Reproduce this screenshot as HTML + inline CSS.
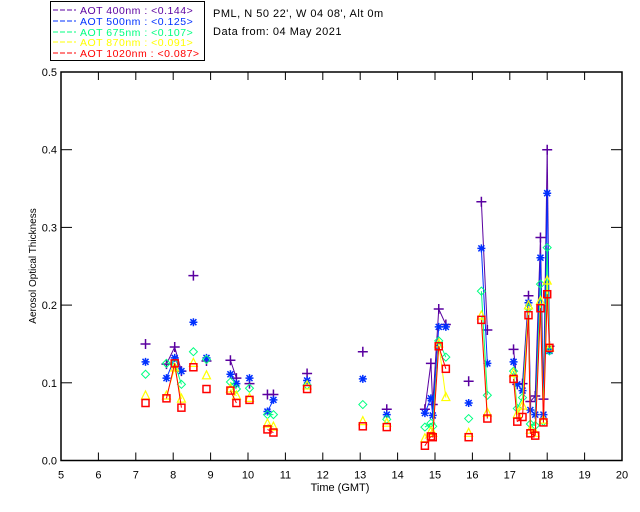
<!DOCTYPE html>
<html><head><meta charset="utf-8"><style>
body{margin:0;background:#fff;width:640px;height:512px;overflow:hidden}
svg{display:block;font-family:"Liberation Sans",sans-serif}
</style></head><body>
<svg id="chart" width="640" height="512" viewBox="0 0 640 512" xmlns="http://www.w3.org/2000/svg">
<g>
<rect x="50.5" y="1.5" width="154" height="59" fill="#fff" stroke="#000" stroke-width="1"/>
<g font-size="10.5" letter-spacing="0.5">
<line x1="53" y1="10" x2="76" y2="10" stroke="#5a00a0" stroke-dasharray="5,2"/><text x="80" y="14" fill="#5a00a0">AOT  400nm : &lt;0.144&gt;</text>
<line x1="53" y1="21" x2="76" y2="21" stroke="#0030ff" stroke-dasharray="5,2"/><text x="80" y="25" fill="#0030ff">AOT  500nm : &lt;0.125&gt;</text>
<line x1="53" y1="32" x2="76" y2="32" stroke="#00ff80" stroke-dasharray="5,2"/><text x="80" y="36" fill="#00ff80">AOT  675nm : &lt;0.107&gt;</text>
<line x1="53" y1="42" x2="76" y2="42" stroke="#ffff00" stroke-dasharray="5,2"/><text x="80" y="46" fill="#ffff00">AOT  870nm : &lt;0.091&gt;</text>
<line x1="53" y1="53" x2="76" y2="53" stroke="#ff0000" stroke-dasharray="5,2"/><text x="80" y="57" fill="#ff0000">AOT 1020nm : &lt;0.087&gt;</text>
</g></g>
<text x="213" y="17" font-size="11" letter-spacing="0.5">PML, N 50 22', W 04 08', Alt 0m</text>
<text x="213" y="35" font-size="11" letter-spacing="0.5">Data from: 04 May 2021</text>
<text x="340" y="491" font-size="11" text-anchor="middle">Time (GMT)</text>
<text transform="translate(36,266) rotate(-90)" font-size="10" text-anchor="middle">Aerosol Optical Thickness</text>
<g id="axes"></g>
<g id="marks"></g>
</svg>
<script>
const times=[7.26,7.82,8.04,8.22,8.54,8.89,9.53,9.69,10.04,10.52,10.68,11.58,13.07,13.71,14.73,14.89,14.94,15.10,15.29,15.90,16.24,16.40,17.10,17.20,17.34,17.50,17.55,17.68,17.82,17.90,18.00,18.06];
const aot400=[0.150,0.124,0.146,0.115,0.238,0.128,0.129,0.106,0.099,0.085,0.085,0.112,0.140,0.066,0.066,0.125,0.072,0.195,0.175,0.102,0.333,0.168,0.143,0.098,0.099,0.212,0.076,0.083,0.287,0.079,0.400,0.147];
const aot500=[0.127,0.106,0.132,0.115,0.178,0.132,0.111,0.099,0.106,0.063,0.078,0.103,0.105,0.059,0.061,0.080,0.058,0.172,0.172,0.074,0.273,0.125,0.127,0.098,0.090,0.203,0.065,0.059,0.261,0.059,0.344,0.141];
const aot675=[0.111,0.125,0.125,0.098,0.140,0.130,0.101,0.092,0.093,0.059,0.059,0.097,0.072,0.053,0.043,0.048,0.044,0.154,0.133,0.054,0.218,0.084,0.115,0.067,0.081,0.196,0.047,0.045,0.227,0.050,0.274,0.141];
const aot870=[0.083,0.083,0.119,0.079,0.125,0.109,0.092,0.083,0.080,0.047,0.043,0.096,0.050,0.048,0.028,0.037,0.035,0.150,0.081,0.035,0.186,0.061,0.112,0.059,0.070,0.199,0.039,0.035,0.205,0.052,0.231,0.145];
const aot1020=[0.074,0.080,0.125,0.068,0.120,0.092,0.090,0.074,0.078,0.040,0.036,0.092,0.044,0.043,0.019,0.031,0.030,0.147,0.118,0.030,0.181,0.054,0.105,0.050,0.056,0.187,0.035,0.032,0.196,0.049,0.214,0.145];
const xTicks=[5,6,7,8,9,10,11,12,13,14,15,16,17,18,19,20];
const yTicks=[0.0,0.1,0.2,0.3,0.4,0.5];
const X0=61,X1=622,Y0=460.5,Y1=72;
const xs=t=>X0+(t-5)/15*(X1-X0);
const ys=v=>Y0-v/0.5*(Y0-Y1);
const NS='http://www.w3.org/2000/svg';
function mk(tag,attrs,parent){const e=document.createElementNS(NS,tag);for(const k in attrs)e.setAttribute(k,attrs[k]);parent.appendChild(e);return e;}
const axes=document.getElementById('axes'),marks=document.getElementById('marks');
const frame=mk('rect',{x:X0,y:Y1,width:X1-X0,height:Y0-Y1,fill:'none',stroke:'#000','stroke-width':1.5},axes);


xTicks.forEach(t=>{const x=xs(t);
 mk('line',{x1:x,y1:Y0,x2:x,y2:Y0-8,stroke:'#000'},axes);
 mk('line',{x1:x,y1:Y1,x2:x,y2:Y1+8,stroke:'#000'},axes);
 const tx=mk('text',{x:x,y:Y0+18,'font-size':11,'text-anchor':'middle'},axes);tx.textContent=t;
 
 
});
yTicks.forEach(v=>{const y=ys(v);
 mk('line',{x1:X0,y1:y,x2:X0+11,y2:y,stroke:'#000'},axes);
 mk('line',{x1:X1,y1:y,x2:X1-11,y2:y,stroke:'#000'},axes);
 const tx=mk('text',{x:X0-4,y:y+4,'font-size':11,'text-anchor':'end'},axes);tx.textContent=v.toFixed(1);
 
 
});
const series=[[aot400,'#5a00a0','plus'],[aot500,'#0030ff','star'],[aot675,'#00ff80','diamond'],[aot870,'#ffff00','tri'],[aot1020,'#ff0000','square']];
series.forEach(([vals,col,sym],si)=>{
 const g=mk('g',{},marks);
 
 
 for(let i=1;i<times.length;i++){ if(times[i]-times[i-1]<0.3){
   mk('line',{x1:xs(times[i-1]),y1:ys(vals[i-1]),x2:xs(times[i]),y2:ys(vals[i]),stroke:col,'stroke-width':1},g);}}
 vals.forEach((v,i)=>{const x=xs(times[i]),y=ys(v);let m;
  if(sym==='plus') m=mk('path',{d:`M${x-5} ${y}H${x+5}M${x} ${y-5}V${y+5}`,stroke:col,'stroke-width':1.5,fill:'none'},g);
  else if(sym==='star') m=mk('path',{d:`M${x-4} ${y}H${x+4}M${x} ${y-4}V${y+4}M${x-3} ${y-3}L${x+3} ${y+3}M${x-3} ${y+3}L${x+3} ${y-3}`,stroke:col,'stroke-width':1.5,fill:'none'},g);
  else if(sym==='diamond') m=mk('path',{d:`M${x} ${y-4}L${x+4} ${y}L${x} ${y+4}L${x-4} ${y}Z`,stroke:col,'stroke-width':1,fill:'none'},g);
  else if(sym==='tri') m=mk('path',{d:`M${x} ${y-5}L${x+4} ${y+3}L${x-4} ${y+3}Z`,stroke:col,'stroke-width':1.2,fill:'none'},g);
  else m=mk('rect',{x:x-3.5,y:y-3.5,width:7,height:7,stroke:col,'stroke-width':1.5,fill:'none'},g);
  
  
 });
});
</script>
</body></html>
